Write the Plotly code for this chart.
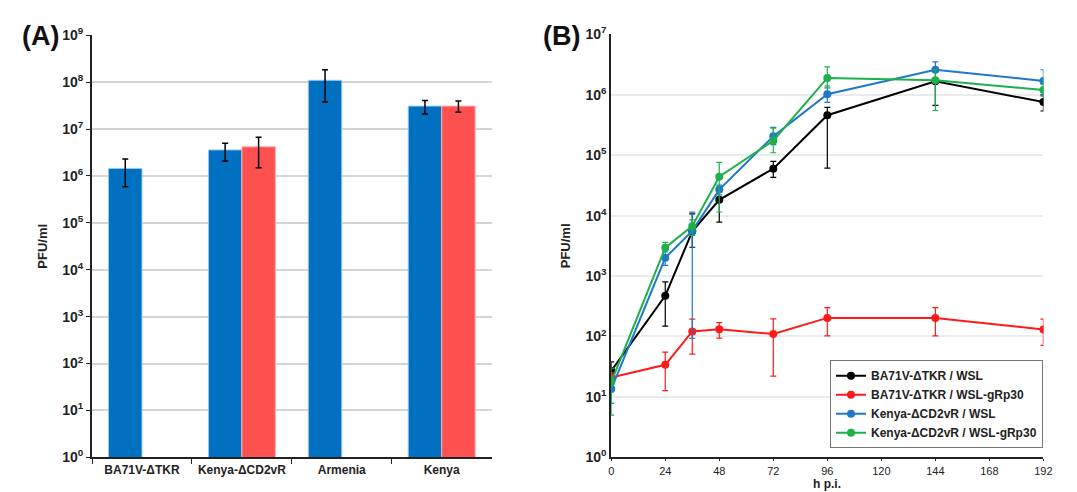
import plotly.graph_objects as go

# ---------- Panel A data ----------
cats_a = ["BA71V-ΔTKR", "Kenya-ΔCD2vR", "Armenia", "Kenya"]
wsl_a = [1.45e6, 3.6e6, 1.1e8, 3.1e7]
wsl_a_hi = [2.3e6, 5.0e6, 1.85e8, 4.1e7]
wsl_a_lo = [5.9e5, 2.1e6, 3.8e7, 2.1e7]
gr_a = [None, 4.2e6, None, 3.1e7]
gr_a_hi = [None, 6.7e6, None, 4.0e7]
gr_a_lo = [None, 1.5e6, None, 2.3e7]

# ---------- Panel B data ----------
hpi = [0, 24, 36, 48, 72, 96, 144, 192]
series_names = ["BA71V-ΔTKR / WSL", "BA71V-ΔTKR / WSL-gRp30",
                "Kenya-ΔCD2vR / WSL", "Kenya-ΔCD2vR / WSL-gRp30"]
black_v = [27, 470, 5500, 18300, 60000, 460000, 1.67e6, 7.6e5]
black_hi = [38, 800, 10700, 25000, 79000, 620000, 1.8e6, 1.0e6]
black_lo = [20, 148, 3000, 7800, 43000, 61000, 6.7e5, 5.4e5]
red_v = [21, 34, 121, 132, 110, 203, 203, 131]
red_hi = [25, 55, 194, 170, 195, 300, 300, 194]
red_lo = [17, 12.7, 51, 94, 22, 102, 102, 71]
blue_v = [13.5, 2000, 5600, 27000, 2.07e5, 1.02e6, 2.6e6, 1.7e6]
blue_hi = [20, 2600, 11400, 32000, 2.9e5, 1.4e6, 3.5e6, 2.6e6]
blue_lo = [7.8, 1500, 93, 22000, 1.5e5, 7.5e5, 1.8e6, 1.0e6]
green_v = [17.5, 2950, 6700, 44000, 1.74e5, 1.9e6, 1.75e6, 1.2e6]
green_hi = [30, 3600, 8500, 76000, 2.8e5, 2.9e6, 2.6e6, 1.5e6]
green_lo = [5, 2500, 4700, 11500, 1.1e5, 1.3e6, 5.5e5, 9.5e5]

dec_vals = [10 ** i for i in range(10)]
dec_text = ["10<sup>%d</sup>" % i for i in range(10)]

BLUE_A = "#0070C0"
RED_A = "#FF5050"
cols_b = ["#000000", "#FF1A1A", "#1F78C8", "#1DB04B"]


def up(v, h):
    return [None if a is None else b - a for a, b in zip(v, h)]


def dn(v, l):
    return [None if a is None else a - b for a, b in zip(v, l)]


fig = go.Figure()

fig.add_trace(go.Bar(
    x=cats_a, y=wsl_a, marker=dict(color=BLUE_A, line=dict(color="#9CC8EE", width=1)),
    error_y=dict(type="data", symmetric=False, array=up(wsl_a, wsl_a_hi),
                 arrayminus=dn(wsl_a, wsl_a_lo), color="black", thickness=1.5, width=3),
    xaxis="x", yaxis="y", showlegend=False))
fig.add_trace(go.Bar(
    x=cats_a, y=gr_a, marker=dict(color=RED_A, line=dict(color="#FFB0B0", width=1)),
    error_y=dict(type="data", symmetric=False, array=up(gr_a, gr_a_hi),
                 arrayminus=dn(gr_a, gr_a_lo), color="black", thickness=1.5, width=3),
    xaxis="x", yaxis="y", showlegend=False))

all_b = [(black_v, black_hi, black_lo), (red_v, red_hi, red_lo),
         (blue_v, blue_hi, blue_lo), (green_v, green_hi, green_lo)]
for name, col, (v, h, l) in zip(series_names, cols_b, all_b):
    fig.add_trace(go.Scatter(
        x=hpi, y=v, name=name, mode="lines+markers",
        line=dict(color=col, width=2), marker=dict(color=col, size=8),
        error_y=dict(type="data", symmetric=False, array=up(v, h),
                     arrayminus=dn(v, l), color=col, thickness=1.2, width=3),
        xaxis="x2", yaxis="y2"))

fig.update_layout(
    width=1077, height=492,
    margin=dict(l=0, r=0, t=0, b=0),
    paper_bgcolor="white", plot_bgcolor="white",
    font=dict(family="Arial, Liberation Sans, sans-serif", color="#222"),
    barmode="group", bargap=0.33, bargroupgap=0,
    xaxis=dict(domain=[0.0761, 0.4513], showline=True, linecolor="#222", linewidth=2,
               ticks="outside", tickson="boundaries", ticklen=5, tickcolor="#222",
               tickfont=dict(size=12, color="#222", weight="bold"), showgrid=False),
    yaxis=dict(domain=[0.0732, 0.9634], type="log", range=[0, 9],
               tickvals=dec_vals, ticktext=dec_text, showline=True, linecolor="#222",
               linewidth=2, ticks="outside", ticklen=4, tickcolor="#222",
               showgrid=True, gridcolor="#D4D4D4", gridwidth=1.5,
               tickfont=dict(size=14, color="#222", weight="bold"),
               title=dict(text="<b>PFU/ml</b>", font=dict(size=13), standoff=12)),
    xaxis2=dict(domain=[0.5636, 0.9694], anchor="y2", range=[0, 192],
                tickvals=[0, 24, 48, 72, 96, 120, 144, 168, 192],
                showline=True, linecolor="#222", linewidth=2, ticks="outside",
                ticklen=2, tickcolor="#222", showgrid=False, zeroline=False,
                tickfont=dict(size=11, color="#222")),
    yaxis2=dict(domain=[0.0732, 0.9654], anchor="x2", type="log", range=[0, 7],
                tickvals=dec_vals[:8], ticktext=dec_text[:8], showline=True,
                linecolor="#222", linewidth=2, ticks="", showgrid=True,
                gridcolor="#EBEBEB", gridwidth=1.5,
                tickfont=dict(size=14, color="#222", weight="bold"),
                title=dict(text="<b>PFU/ml</b>", font=dict(size=13), standoff=12)),
    legend=dict(x=0.969, xanchor="right", y=0.278, yanchor="top",
                bordercolor="#777", borderwidth=1, bgcolor="white",
                font=dict(size=12, color="#222", weight="bold"),
                tracegroupgap=0, itemwidth=30),
    annotations=[
        dict(text="<b>(A)</b>", x=0.008, y=0.998, xref="paper", yref="paper",
             xanchor="left", yanchor="top", showarrow=False, font=dict(size=27, color="#111")),
        dict(text="<b>(B)</b>", x=0.498, y=0.998, xref="paper", yref="paper",
             xanchor="left", yanchor="top", showarrow=False, font=dict(size=27, color="#111")),
        dict(text="<b>h p.i.</b>", x=96, xref="x2", y=0, yref="paper",
             xanchor="center", yanchor="bottom", showarrow=False, borderpad=0,
             font=dict(size=12, color="#222")),
    ],
)

fig.write_html("out.html")
